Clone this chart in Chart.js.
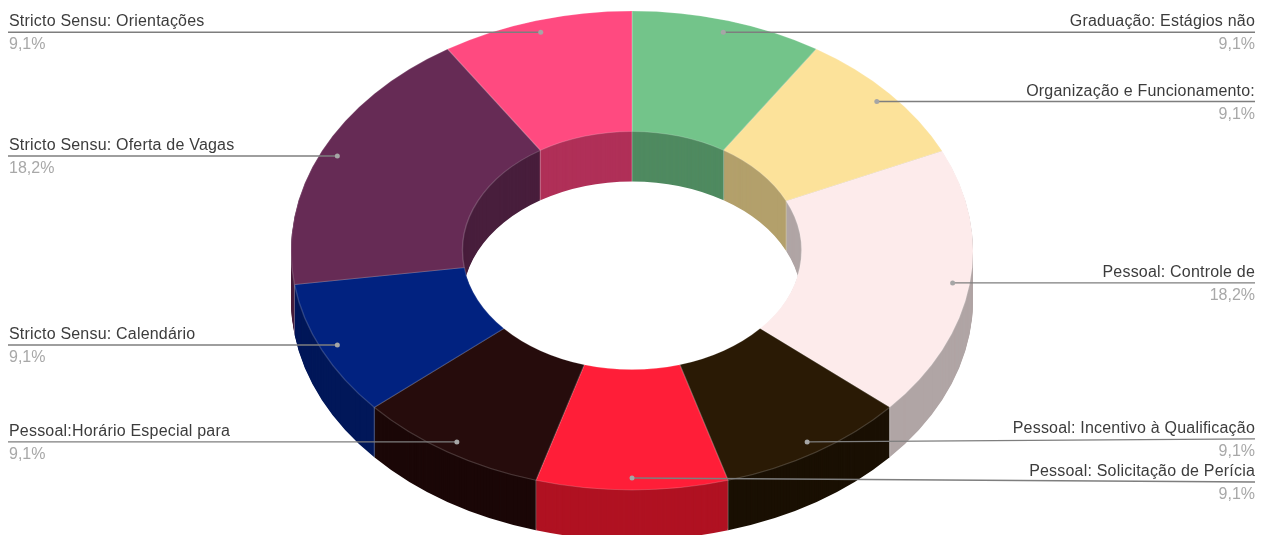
<!DOCTYPE html>
<html>
<head>
<meta charset="utf-8">
<style>
  html, body { margin: 0; padding: 0; background: #fff; overflow: hidden; }
  #box { width: 1265px; height: 535px; }
  /* reference is a slightly soft screenshot */
  #chart { filter: blur(0.4px); }
</style>
<script src="https://cdn.jsdelivr.net/npm/chart.js@4"></script>
</head>
<body>
<div id="box"><canvas id="chart" width="1265" height="535"></canvas></div>
<script>
const categories = [
    "Graduação: Estágios não",
    "Organização e Funcionamento:",
    "Pessoal: Controle de",
    "Pessoal: Incentivo à Qualificação",
    "Pessoal: Solicitação de Perícia",
    "Pessoal:Horário Especial para",
    "Stricto Sensu: Calendário",
    "Stricto Sensu: Oferta de Vagas",
    "Stricto Sensu: Orientações"
];
const values = [1, 1, 2, 1, 1, 1, 1, 2, 1];
const colors = ["#73c48a", "#fce29a", "#fdebeb", "#2a1a05", "#ff1e38", "#260c0c", "#012280", "#662b55", "#ff4a80"];
const wallColors = ["#4f8a60", "#b3a06b", "#b0a5a5", "#1a1003", "#b01222", "#1b0707", "#011759", "#481e3c", "#b03058"];

// leader lines of these two are pushed apart so the labels fit
const lineEndShift = [0, 0, 0, -3, 4, 0, 0, 0, 0];

// flattened ring, the look of a 3D pie
const RX = 341, RY = 239.5, DEPTH = 50, DOT_RADIUS = 0.95;

function squash(ctx, a, dy) {
    ctx.translate(a.x, a.y + dy);
    ctx.scale(RX / a.outerRadius, RY / a.outerRadius);
    ctx.translate(-a.x, -a.y);
}

const ring3d = {
    id: "ring3d",
    beforeDatasetsDraw(chart) {
        const ctx = chart.ctx;
        const arcs = chart.getDatasetMeta(0).data;
        const k = { x: RX / arcs[0].outerRadius, y: RY / arcs[0].outerRadius };

        // side walls: same slices stacked from the bottom up
        for (let d = DEPTH; d > 0; d--) {
            ctx.save();
            squash(ctx, arcs[0], d);
            arcs.forEach((a, i) => {
                ctx.beginPath();
                ctx.arc(a.x, a.y, a.outerRadius, a.startAngle, a.endAngle);
                ctx.arc(a.x, a.y, a.innerRadius, a.endAngle, a.startAngle, true);
                ctx.closePath();
                ctx.fillStyle = wallColors[i];
                ctx.fill();
            });
            ctx.restore();
        }

        // vertical edges between walls
        ctx.strokeStyle = "rgba(255,255,255,0.3)";
        ctx.lineWidth = 1;
        arcs.forEach(a => {
            const s = Math.sin(a.startAngle), c = Math.cos(a.startAngle);
            const r = s >= 0 ? a.outerRadius : a.innerRadius;
            const x = a.x + c * r * k.x, y = a.y + s * r * k.y;
            ctx.beginPath();
            ctx.moveTo(x, y);
            ctx.lineTo(x, y + DEPTH);
            ctx.stroke();
        });

        ctx.save();
        squash(ctx, arcs[0], 0);
    },
    afterDatasetsDraw(chart) {
        const ctx = chart.ctx;
        ctx.restore();

        const arcs = chart.getDatasetMeta(0).data;
        const total = values.reduce((s, v) => s + v, 0);
        ctx.font = "16px 'Liberation Sans'";
        ctx.textBaseline = "alphabetic";

        arcs.forEach((a, i) => {
            const mid = (a.startAngle + a.endAngle) / 2;
            const dotX = a.x + Math.cos(mid) * RX * DOT_RADIUS;
            const dotY = a.y + Math.sin(mid) * RY * DOT_RADIUS;
            const onRight = Math.cos(mid) > 0 || i === 4;
            const endX = onRight ? 1255 : 8;
            const endY = dotY + lineEndShift[i];
            const textX = onRight ? endX : endX + 1;

            ctx.strokeStyle = "#7e7e7e";
            ctx.lineWidth = 1.4;
            ctx.beginPath();
            ctx.moveTo(dotX, dotY);
            ctx.lineTo(endX, endY);
            ctx.stroke();

            ctx.fillStyle = "#a6a6a6";
            ctx.beginPath();
            ctx.arc(dotX, dotY, 2.5, 0, Math.PI * 2);
            ctx.fill();

            ctx.textAlign = onRight ? "right" : "left";
            ctx.letterSpacing = "0.2px";
            ctx.fillStyle = "#3c3c3c";
            ctx.fillText(categories[i], textX, endY - 6);
            ctx.letterSpacing = "0px";
            ctx.fillStyle = "#a8a8a8";
            ctx.fillText((values[i] / total * 100).toFixed(1).replace(".", ",") + "%", textX, endY + 17);
        });
    }
};

new Chart(document.getElementById("chart"), {
    type: "doughnut",
    data: {
        labels: categories,
        datasets: [{
            data: values,
            backgroundColor: colors,
            borderColor: "rgba(255,255,255,0.18)",
            borderWidth: 1,
            clip: false
        }]
    },
    options: {
        responsive: false,
        animation: false,
        cutout: "49.7%",
        layout: { padding: { top: 1, right: 1, bottom: 35 } },
        plugins: { legend: { display: false }, tooltip: { enabled: false } }
    },
    plugins: [ring3d]
});
</script>
</body>
</html>
